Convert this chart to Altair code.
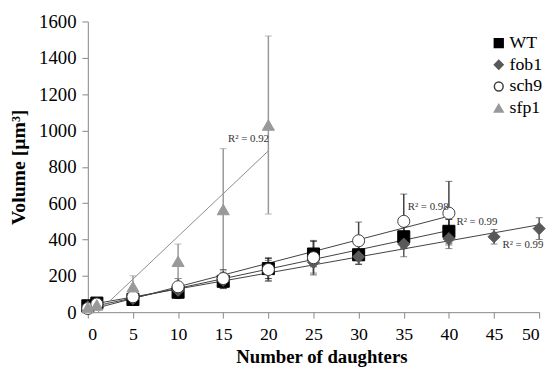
import altair as alt
import pandas as pd

strains = ["WT", "fob1", "sch9", "sfp1"]

x_wt = [0, 1, 5, 10, 15, 20, 25, 30, 35, 40]
y_wt = [35, 50, 70, 110, 170, 240, 320, 316, 415, 445]
e_wt = [15, 15, 15, 35, 40, 55, 70, 53, 60, 65]

x_fob1 = [0, 1, 5, 10, 15, 20, 25, 30, 35, 40, 45, 50]
y_fob1 = [30, 45, 75, 120, 175, 230, 275, 305, 375, 405, 415, 460]
e_fob1 = [12, 15, 20, 30, 45, 55, 60, 40, 70, 55, 40, 60]

x_sch9 = [0, 1, 5, 10, 15, 20, 25, 30, 35, 40]
y_sch9 = [20, 45, 85, 140, 185, 235, 300, 393, 500, 545]
e_sch9 = [10, 15, 30, 45, 50, 65, 95, 103, 150, 175]

x_sfp1 = [0, 1, 5, 10, 15, 20]
y_sfp1 = [25, 40, 140, 280, 565, 1030]
e_sfp1 = [10, 10, 60, 95, 335, 490]

r2_text = ["R² = 0.92", "R² = 0.98", "R² = 0.99", "R² = 0.99"]
r2_x = [17.8, 37.7, 43.1, 48.2]
r2_y = [955, 580, 496, 370]

rows = []
for s, xs, ys, es in [("WT", x_wt, y_wt, e_wt), ("fob1", x_fob1, y_fob1, e_fob1),
                      ("sch9", x_sch9, y_sch9, e_sch9), ("sfp1", x_sfp1, y_sfp1, e_sfp1)]:
    for xv, yv, ev in zip(xs, ys, es):
        rows.append({"strain": s, "daughters": xv, "volume": yv, "lo": yv - ev, "hi": yv + ev})
df = pd.DataFrame(rows)
r2df = pd.DataFrame({"x": r2_x, "y": r2_y, "t": r2_text})

FONT = "Liberation Serif"

xscale = alt.Scale(domain=[0, 50], nice=False)
yscale = alt.Scale(domain=[0, 1600], nice=False)

xaxis = alt.Axis(values=list(range(0, 51, 5)), title="Number of daughters",
                 titleX=237, titleY=45, titleBaseline="middle", labelPadding=8,
                 labelFontSize=18, titleFontSize=19,
                 format="d", labelOverlap=False)
yaxis = alt.Axis(values=list(range(0, 1601, 200)), title="Volume [µm³]",
                 titleX=-70, titleBaseline="middle", labelPadding=6,
                 format="d", labelOverlap=False)


def X(f):
    return alt.X(f, scale=xscale, axis=xaxis)


def Y(f):
    return alt.Y(f, scale=yscale, axis=yaxis)


base = alt.Chart(df)

ecol_expr = ("datum.strain == 'WT' ? '#000000' : datum.strain == 'fob1' ? '#595959' : "
             "datum.strain == 'sch9' ? '#404040' : '#999999'")
tcol_expr = "datum.strain == 'sfp1' ? '#8c8c8c' : '#404040'"

trend = base.transform_regression(
    "daughters", "volume", groupby=["strain"]
).transform_calculate(tcol=tcol_expr).mark_line(clip=True, strokeWidth=1).encode(
    x=X("daughters:Q"), y=Y("volume:Q"), detail="strain:N", color=alt.Color("tcol:N", scale=None)
)

err = base.transform_calculate(ecol=ecol_expr).mark_rule(strokeWidth=1.5).encode(
    x=X("daughters:Q"), y=Y("lo:Q"), y2="hi:Q", color=alt.Color("ecol:N", scale=None)
)
cap_hi = base.transform_calculate(ecol=ecol_expr).mark_tick(
    orient="horizontal", size=7, thickness=1).encode(
    x=X("daughters:Q"), y=Y("hi:Q"), color=alt.Color("ecol:N", scale=None)
)
cap_lo = base.transform_calculate(ecol=ecol_expr).mark_tick(
    orient="horizontal", size=7, thickness=1).encode(
    x=X("daughters:Q"), y=Y("lo:Q"), color=alt.Color("ecol:N", scale=None)
)

leg = alt.Legend(title=None, orient="none", legendX=408, legendY=13,
                 labelFont=FONT, labelFontSize=18, labelColor="#000000",
                 symbolSize=80, rowPadding=4, labelOffset=2)

points = base.mark_point(filled=True, size=150, opacity=1, strokeWidth=1).encode(
    x=X("daughters:Q"), y=Y("volume:Q"),
    shape=alt.Shape("strain:N", scale=alt.Scale(domain=strains,
                    range=["square", "diamond", "circle", "triangle-up"]), legend=leg),
    fill=alt.Fill("strain:N", scale=alt.Scale(domain=strains,
                  range=["#000000", "#595959", "#ffffff", "#999999"]), legend=leg),
    stroke=alt.Stroke("strain:N", scale=alt.Scale(domain=strains,
                      range=["#000000", "#595959", "#404040", "#999999"]), legend=leg),
)

labels = alt.Chart(r2df).mark_text(font=FONT, fontSize=11, color="#333333").encode(
    x=X("x:Q"), y=Y("y:Q"), text="t:N"
)

chart = alt.layer(trend, err, cap_hi, cap_lo, points, labels).properties(
    width=458, height=295,
    autosize=alt.AutoSizeParams(type="none"),
    padding={"left": 81, "top": 11, "right": 11, "bottom": 55},
).configure_view(stroke=None).configure_axis(
    grid=False, domainColor="#868686", tickColor="#868686", tickSize=6,
    labelFont=FONT, labelFontSize=19, labelColor="#000000",
    titleFont=FONT, titleFontSize=20, titleFontWeight="bold", titleColor="#000000",
)

chart.save("out.html", embed_options={"renderer": "svg", "actions": False})
